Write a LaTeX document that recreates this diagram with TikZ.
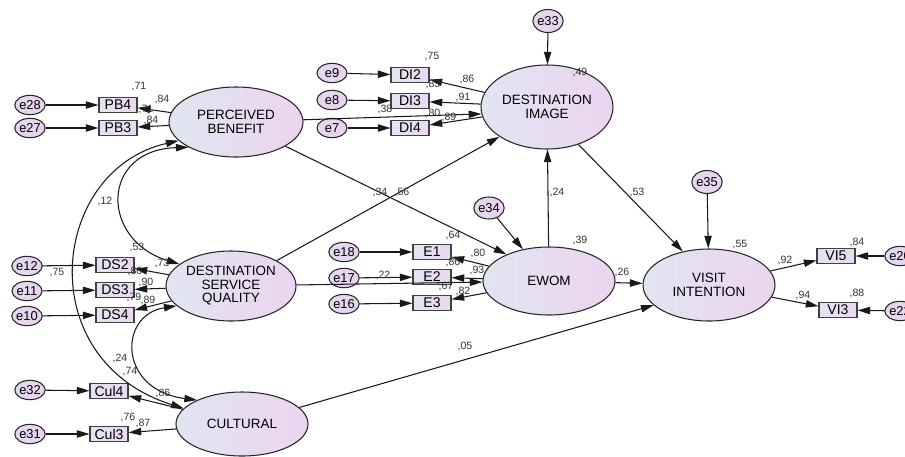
\documentclass[tikz,border=0pt]{standalone}
\usepackage{fontspec}
\setmainfont{Liberation Sans}
\usetikzlibrary{arrows.meta,shapes.geometric}
\definecolor{ltA}{HTML}{E1E5F1}
\definecolor{ltB}{HTML}{ECD4F0}
\definecolor{erA}{HTML}{E3D9EE}
\definecolor{erB}{HTML}{EAD2EF}
\definecolor{obA}{HTML}{E5E2F3}
\definecolor{obB}{HTML}{EAD9F1}

\begin{document}
\begin{tikzpicture}[x=0.3mm,y=-0.3mm,line width=0.9pt,lat/.style={ellipse,draw=black!85,inner sep=0pt,align=center,left color=ltA,right color=ltB,font=\fontsize{11.5}{11.5}\selectfont},obs/.style={rectangle,draw=black!75,minimum width=11.4mm,minimum height=4.6mm,inner sep=0pt,left color=obA,right color=obB,font=\fontsize{12}{12}\selectfont},err/.style={ellipse,draw=black!85,minimum width=9mm,minimum height=#1,inner sep=0pt,left color=erA,right color=erB,font=\fontsize{11}{11}\selectfont},err/.default=5.8mm,arr/.style={-{Triangle[length=3.8mm,width=2.2mm]},black!90},cov/.style={{Triangle[length=3.8mm,width=2.2mm]}-{Triangle[length=3.8mm,width=2.2mm]},black!90},num/.style={inner sep=0pt,text=black!80,font=\fontsize{9}{9}\selectfont}]
\useasboundingbox (0,0) rectangle (905,456);
\node[lat,minimum width=40.2mm,minimum height=21mm](pb) at (236,122){PERCEIVED\\BENEFIT};
\node[lat,minimum width=39.6mm,minimum height=25.2mm](di) at (547,107){DESTINATION\\IMAGE};
\node[lat,minimum width=39mm,minimum height=21mm](dsq) at (231,286){DESTINATION\\SERVICE\\QUALITY};
\node[lat,minimum width=39.6mm,minimum height=20.4mm](ew) at (549,281){EWOM};
\node[lat,minimum width=39.6mm,minimum height=21.6mm](vi) at (709,285){VISIT\\INTENTION};
\node[lat,minimum width=39.6mm,minimum height=19.2mm](cu) at (242,424){CULTURAL};
\node[obs](pb4) at (118,105){PB4};
\node[obs](pb3) at (118,128){PB3};
\node[obs](di2) at (410,75){DI2};
\node[obs](di3) at (410,101){DI3};
\node[obs](di4) at (410,128){DI4};
\node[obs](ds2) at (115,265){DS2};
\node[obs](ds3) at (115,290){DS3};
\node[obs](ds4) at (115,315){DS4};
\node[obs](ew1) at (432,252){E1};
\node[obs](ew2) at (432,277){E2};
\node[obs](ew3) at (432,303){E3};
\node[obs](vi5) at (836,256){VI5};
\node[obs](vi3) at (838,310){VI3};
\node[obs](cul4) at (109,391){Cul4};
\node[obs](cul3) at (109,434){Cul3};
\node[err](r28) at (30,105){e28};
\node[err](r27) at (30,128){e27};
\node[err](r9) at (332,73){e9};
\node[err](r8) at (332,100){e8};
\node[err](r7) at (332,128){e7};
\node[err](r12) at (27,266){e12};
\node[err](r11) at (27,291){e11};
\node[err](r10) at (27,316){e10};
\node[err](r18) at (344,252){e18};
\node[err](r17) at (344,278){e17};
\node[err](r16) at (344,304){e16};
\node[err](r32) at (30,390){e32};
\node[err](r31) at (30,434){e31};
\node[err](r20) at (900,256){e20};
\node[err](r22) at (900,311){e22};
\node[err=6.9mm](r33) at (548,21){e33};
\node[err=6.6mm](r34) at (489,208){e34};
\node[err=6.9mm](r35) at (707,182){e35};
\draw[arr](r28)--(pb4);\draw[arr](r27)--(pb3);\draw[arr](r9)--(di2);\draw[arr](r8)--(di3);\draw[arr](r7)--(di4);
\draw[arr](r12)--(ds2);\draw[arr](r11)--(ds3);\draw[arr](r10)--(ds4);\draw[arr](r18)--(ew1);\draw[arr](r17)--(ew2);\draw[arr](r16)--(ew3);
\draw[arr](r32)--(cul4);\draw[arr](r31)--(cul3);\draw[arr](r20)--(vi5);\draw[arr](r22)--(vi3);
\draw[arr](r33)--(di);\draw[arr](r34)--(ew);\draw[arr](r35)--(vi);
\draw[arr](pb)--(pb4);\draw[arr](pb)--(pb3);\draw[arr](di)--(di2);\draw[arr](di)--(di3);\draw[arr](di)--(di4);
\draw[arr](dsq)--(ds2);\draw[arr](dsq)--(ds3);\draw[arr](dsq)--(ds4);\draw[arr](ew)--(ew1);\draw[arr](ew)--(ew2);\draw[arr](ew)--(ew3);
\draw[arr](vi)--(vi5);\draw[arr](vi)--(vi3);\draw[arr](cu)--(cul4);\draw[arr](cu)--(cul3);
\draw[arr](pb)--(di.186);\draw[arr](pb)--(ew.148);\draw[arr](dsq)--(di.212);\draw[arr](dsq)--(ew);
\draw[arr](ew)--(di);\draw[arr](di.-50)--(vi.128);\draw[arr](ew)--(vi);\draw[arr](cu)--(vi.200);
\draw[cov](pb.198) .. controls (50,170) and (30,360) .. (cu.165);
\draw[cov](pb.208) .. controls (100,150) and (100,240) .. (dsq.157);
\draw[cov](dsq.200) .. controls (118,315) and (118,390) .. (cu.152);
\node[num](t1) at (139,87){,71};
\node[num](t2) at (162,99){,84};
\node[num](t3) at (146,110){,71};
\node[num](t4) at (151,120){,84};
\node[num](t5) at (432,57){,75};
\node[num](t6) at (467,79){,86};
\node[num](t7) at (433,84){,83};
\node[num](t8) at (463,97){,91};
\node[num](t9) at (385,109){,38};
\node[num](t10) at (433,113){,80};
\node[num](t11) at (449,117){,89};
\node[num](t12) at (580,72){,49};
\node[num](t13) at (137,247){,53};
\node[num](t14) at (162,263){,73};
\node[num](t15) at (135,271){,80};
\node[num](t16) at (146,282){,90};
\node[num](t17) at (134,297){,79};
\node[num](t18) at (148,300){,89};
\node[num](t19) at (57,273){,75};
\node[num](t20) at (105,201){,12};
\node[num](t21) at (120,358){,24};
\node[num](t22) at (130,372){,74};
\node[num](t23) at (163,393){,86};
\node[num](t24) at (128,417){,76};
\node[num](t25) at (143,423){,87};
\node[num](t26) at (380,192){,34};
\node[num](t27) at (402,192){,56};
\node[num](t28) at (453,235){,64};
\node[num](t29) at (478,253){,80};
\node[num](t30) at (453,262){,86};
\node[num](t31) at (477,270){,93};
\node[num](t32) at (383,275){,22};
\node[num](t33) at (446,286){,67};
\node[num](t34) at (463,291){,82};
\node[num](t35) at (580,240){,39};
\node[num](t36) at (557,192){,24};
\node[num](t37) at (637,192){,53};
\node[num](t38) at (622,272){,26};
\node[num](t39) at (740,245){,55};
\node[num](t40) at (785,260){,92};
\node[num](t41) at (857,242){,84};
\node[num](t42) at (803,295){,94};
\node[num](t43) at (857,293){,88};
\node[num](t44) at (465,346){,05};
\end{tikzpicture}
\end{document}
